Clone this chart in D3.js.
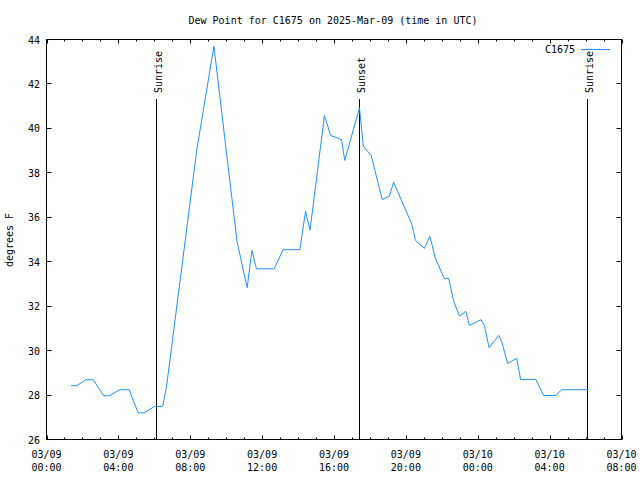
<!DOCTYPE html>
<html><head><meta charset="utf-8">
<script src="https://cdn.jsdelivr.net/npm/d3@7"></script>
<style>body{margin:0;background:#fff}svg text{font-family:"DejaVu Sans Mono",monospace;font-size:10px;fill:#000}</style>
</head><body><svg id="c" width="640" height="480"></svg>
<script>
const times = ["2025-03-09T01:22Z","2025-03-09T01:41Z","2025-03-09T02:11Z","2025-03-09T02:36Z","2025-03-09T03:11Z","2025-03-09T03:29Z","2025-03-09T04:05Z","2025-03-09T04:36Z","2025-03-09T05:06Z","2025-03-09T05:26Z","2025-03-09T06:01Z","2025-03-09T06:28Z","2025-03-09T06:41Z","2025-03-09T08:22Z","2025-03-09T09:19Z","2025-03-09T10:36Z","2025-03-09T11:10Z","2025-03-09T11:26Z","2025-03-09T11:41Z","2025-03-09T12:40Z","2025-03-09T13:10Z","2025-03-09T14:06Z","2025-03-09T14:25Z","2025-03-09T14:40Z","2025-03-09T15:28Z","2025-03-09T15:49Z","2025-03-09T16:25Z","2025-03-09T16:36Z","2025-03-09T17:25Z","2025-03-09T17:38Z","2025-03-09T18:04Z","2025-03-09T18:41Z","2025-03-09T19:05Z","2025-03-09T19:19Z","2025-03-09T20:20Z","2025-03-09T20:32Z","2025-03-09T21:02Z","2025-03-09T21:20Z","2025-03-09T21:38Z","2025-03-09T22:08Z","2025-03-09T22:23Z","2025-03-09T22:40Z","2025-03-09T22:59Z","2025-03-09T23:20Z","2025-03-09T23:32Z","2025-03-10T00:11Z","2025-03-10T00:22Z","2025-03-10T00:38Z","2025-03-10T01:10Z","2025-03-10T01:20Z","2025-03-10T01:40Z","2025-03-10T02:10Z","2025-03-10T02:23Z","2025-03-10T03:14Z","2025-03-10T03:40Z","2025-03-10T04:20Z","2025-03-10T04:40Z","2025-03-10T06:10Z"];
const dewPoint = [28.42,28.42,28.69,28.69,27.97,27.97,28.24,28.24,27.20,27.20,27.49,27.49,28.40,39.05,43.70,34.92,32.83,34.51,33.68,33.68,34.54,34.54,36.27,35.42,40.57,39.68,39.50,38.56,40.93,39.20,38.78,36.80,36.95,37.58,35.68,34.96,34.60,35.15,34.18,33.25,33.25,32.20,31.55,31.77,31.14,31.39,31.14,30.13,30.68,30.40,29.42,29.66,28.70,28.70,27.98,27.98,28.24,28.24];
const events = [{label:"Sunrise", time:"2025-03-09T06:06Z"},{label:"Sunset", time:"2025-03-09T17:23Z"},{label:"Sunrise", time:"2025-03-10T06:04Z"}];
const yTicks = [26,28,30,32,34,36,38,40,42,44];
const xDomain = ["2025-03-09T00:00Z","2025-03-10T08:00Z"];
const title = "Dew Point for C1675 on 2025-Mar-09 (time in UTC)";
const seriesName = "C1675";
const yLabel = "degrees F";

const svg = d3.select("#c");
const L=46.5, R=621.5, T=39.5, B=439.5;
const x = d3.scaleUtc().domain(xDomain.map(d=>new Date(d))).range([L,R]);
const y = d3.scaleLinear().domain([26,44]).range([B,T]);
const fmt = d3.utcFormat("%m/%d");
const fmt2 = d3.utcFormat("%H:%M");
const majorX = d3.utcHour.every(4).range(x.domain()[0], new Date(x.domain()[1].getTime()+1));
const minorX = d3.utcHour.every(1).range(x.domain()[0], new Date(x.domain()[1].getTime()+1));

// frame
svg.append("rect").attr("x",L).attr("y",T).attr("width",R-L).attr("height",B-T).attr("fill","none").attr("stroke","#000").attr("stroke-width",1);

// x axes (bottom/top) ticks
const g = svg.append("g").attr("stroke","#000").attr("stroke-width",1);
minorX.forEach(t=>{
  const major = t.getUTCHours()%4===0;
  const len = major?4:2;
  const xx = Math.round(x(t))+0.5;
  g.append("line").attr("x1",xx).attr("x2",xx).attr("y1",B).attr("y2",B-len);
  g.append("line").attr("x1",xx).attr("x2",xx).attr("y1",T).attr("y2",T+len);
});
yTicks.forEach(v=>{
  const yy = Math.round(y(v)-0.5)+0.5;
  g.append("line").attr("x1",L).attr("x2",L+5).attr("y1",yy).attr("y2",yy);
  g.append("line").attr("x1",R).attr("x2",R-5).attr("y1",yy).attr("y2",yy);
});
majorX.forEach(t=>{
  svg.append("text").attr("x",x(t)).attr("y",458).attr("text-anchor","middle").text(fmt(t));
  svg.append("text").attr("x",x(t)).attr("y",471).attr("text-anchor","middle").text(fmt2(t));
});
yTicks.forEach(v=>{
  svg.append("text").attr("x",40).attr("y",y(v)+4).attr("text-anchor","end").text(v);
});

// title & labels
svg.append("text").attr("x",333).attr("y",24).attr("text-anchor","middle").text(title);
svg.append("text").attr("transform","translate(13,240) rotate(-90)").attr("text-anchor","middle").text(yLabel);

// events
events.forEach(e=>{
  const xx = Math.round(x(new Date(e.time)))+0.5;
  svg.append("line").attr("x1",xx).attr("x2",xx).attr("y1",B).attr("y2",99).attr("stroke","#000").attr("stroke-width",1);
  svg.append("text").attr("transform",`translate(${xx+5},93) rotate(-90)`).attr("text-anchor","start").text(e.label);
});

// series
const data = times.map((t,i)=>({t:new Date(t), v:dewPoint[i]}));
svg.append("path").datum(data).attr("fill","none").attr("stroke","#1e90ff").attr("stroke-width",1)
  .attr("d", d3.line().x(d=>x(d.t)).y(d=>y(d.v)));

// legend
svg.append("text").attr("x",575).attr("y",53).attr("text-anchor","end").text(seriesName);
svg.append("line").attr("x1",581).attr("x2",610).attr("y1",49.5).attr("y2",49.5).attr("stroke","#1e90ff").attr("stroke-width",1);
</script></body></html>
